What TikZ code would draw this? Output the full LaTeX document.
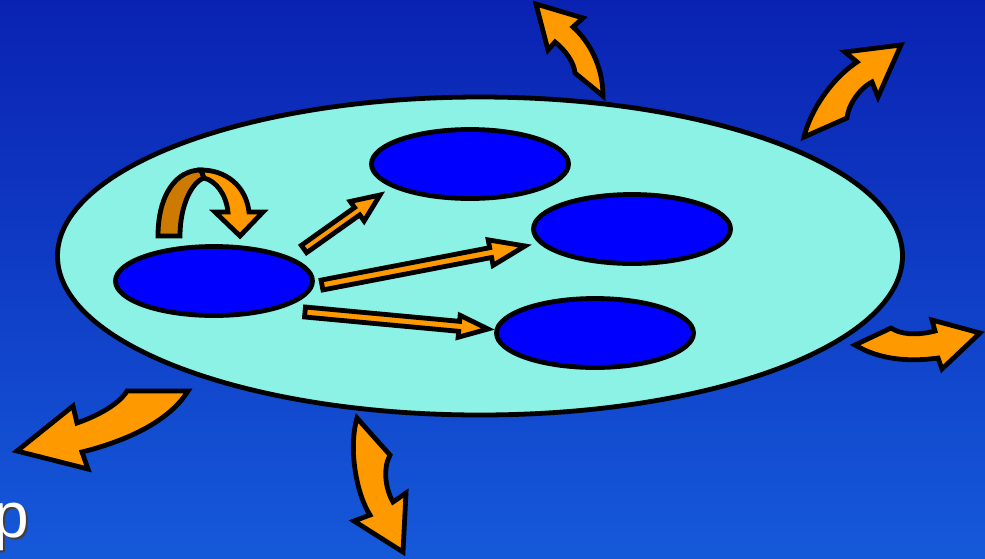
\documentclass[tikz,border=0pt]{standalone}
\usepackage{fontspec}
\setmainfont{Liberation Sans}
\usetikzlibrary{shapes.geometric,calc}
\definecolor{bgtop}{HTML}{0A22B2}
\definecolor{bgbot}{HTML}{1559D9}
\definecolor{aqua}{HTML}{8CF2E6}
\definecolor{orng}{HTML}{FF9900}
\definecolor{dorng}{HTML}{CC7A00}
\definecolor{cellblue}{HTML}{0000FF}
\newcommand\blockarr[5]{%
 \coordinate (hb) at ($(#2)!#5!(#1)$);
 \draw[barrow] ($(#1)!#3!90:(#2)$) -- ($(hb)!#3!90:(#2)$) -- ($(hb)!#4!90:(#2)$) -- (#2) -- ($(hb)!#4!-90:(#2)$) -- ($(hb)!#3!-90:(#2)$) -- ($(#1)!#3!-90:(#2)$) -- cycle;}
\begin{document}
\begin{tikzpicture}[x=1pt,y=-1pt,
  cell/.style={ellipse, draw=black, line width=4.8pt, fill=cellblue, inner sep=0pt, minimum width=197pt, minimum height=69pt},
  big/.style={ellipse, draw=black, line width=4.8pt, fill=aqua, inner sep=0pt, minimum width=845pt, minimum height=318pt},
  barrow/.style={draw=black, line width=4.8pt, fill=orng, line join=miter},
  darrow/.style={draw=black, line width=4.8pt, fill=dorng, line join=miter}]
\useasboundingbox (0,0) rectangle (985,558);
\clip (0,0) rectangle (985,558);
\shade[top color=bgtop, bottom color=bgbot] (0,0) rectangle (985,558);
% text
\node[anchor=base west, inner sep=0pt, text=white, font=\fontsize{64}{70}\selectfont] (ptext) at (-7,537) {\rlap{\kern2pt\raisebox{-2pt}{\textcolor{black!75}{p}}}p};
% outer arrows
\draw[barrow] (536,4) -- (583,18) -- (573,27) .. controls (588,40) and (603,65) .. (603,96) -- (575,73) .. controls (574,62) and (565,50) .. (555,42) -- (548,50) -- cycle;
\draw[barrow] (901,45) -- (878,97) -- (872,82) .. controls (860,88) and (848,105) .. (847,118) -- (804,137) .. controls (810,112) and (830,80) .. (857,62) -- (845,52) -- cycle;
\draw[barrow] (855,345) -- (891,328) .. controls (900,334) and (915,336) .. (935,331) -- (932,320) -- (980,333) -- (942,369) -- (938,358) .. controls (910,362) and (880,360) .. (855,345) -- cycle;
\draw[barrow] (188,391) -- (127,391) .. controls (120,403) and (100,415) .. (77,423) -- (73,406) -- (17,451) -- (88,469) -- (82,452) .. controls (130,440) and (170,420) .. (188,391) -- cycle;
\draw[barrow] (357,418) -- (390,455) .. controls (383,468) and (385,488) .. (393,502) -- (406,493) -- (403,552) -- (354,521) -- (370,515) .. controls (357,495) and (348,450) .. (357,418) -- cycle;
% membrane
\node[big] (cellwall) at (480,256) {};
% inner cells
\node[cell] (c1) at (214,281) {};
\node[cell] (c2) at (470,164) {};
\node[cell] (c3) at (632,229) {};
\node[cell] (c4) at (595,333) {};
% u-turn arrow
\draw[darrow] (158,236) .. controls (158,195) and (176,170) .. (201,170) -- (204,178) .. controls (192,182) and (180,205) .. (180,236) -- cycle;
\draw[barrow] (201,170) .. controls (226,170) and (246,186) .. (249,212) -- (263,212) -- (240,236) -- (215,212) -- (228,212) .. controls (226,194) and (216,181) .. (204,178) -- cycle;
% straight arrows
\coordinate (t1) at (304,249);
\coordinate (h1) at (380,195);
\coordinate (t2) at (322,285);
\coordinate (h2) at (525,246);
\coordinate (t3) at (305,312);
\coordinate (h3) at (488,329);
\blockarr{t1}{h1}{4.5pt}{12pt}{28pt}
\blockarr{t2}{h2}{5pt}{13pt}{35pt}
\blockarr{t3}{h3}{5pt}{11pt}{29pt}
\end{tikzpicture}
\end{document}
